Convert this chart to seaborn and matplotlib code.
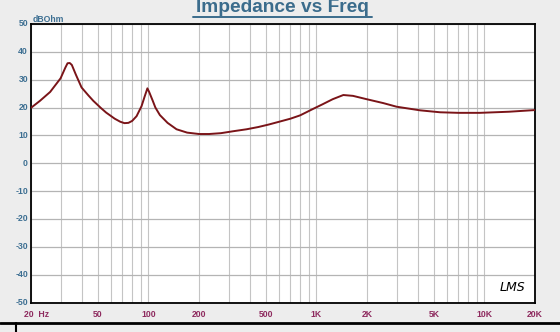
import numpy as np
import pandas as pd
import matplotlib
matplotlib.use("Agg")
import matplotlib.pyplot as plt
from matplotlib.lines import Line2D
import seaborn as sns

# ---- data ----
freq = [20, 22.6, 26, 30, 32, 33, 34, 35, 37, 40, 44, 47, 52, 56, 63, 68, 72, 76, 80, 85,
        91, 95, 98.6, 101, 106, 110, 117, 130, 147, 170, 200, 230, 270, 320, 384,
        450, 520, 608, 700, 800, 954, 1090, 1250, 1446, 1650, 1990, 2500, 3000,
        4140, 5450, 7000, 9400, 14000, 20000]
imp = [19.9, 22.4, 25.6, 30.5, 34.3, 35.9, 36.0, 35.3, 31.8, 27.2, 24.3, 22.4, 19.9,
       18.2, 16.0, 14.9, 14.4, 14.5, 15.2, 16.9, 20.5, 24.0, 26.9, 25.6, 22.5, 20.0,
       17.3, 14.5, 12.2, 11.0, 10.5, 10.5, 10.8, 11.5, 12.2, 13.0, 13.9, 15.0, 16.0,
       17.2, 19.5, 21.2, 23.0, 24.5, 24.2, 23.0, 21.6, 20.3, 19.0, 18.3, 18.1, 18.1,
       18.5, 19.1]

xticks = [20, 50, 100, 200, 500, 1000, 2000, 5000, 10000, 20000]
xlabels = ["20  Hz", "50", "100", "200", "500", "1K", "2K", "5K", "10K", "20K"]
yticks = list(range(-50, 51, 10))

df = pd.DataFrame({"freq": freq, "imp": imp})

sns.set_style("white")
plt.rcParams["font.family"] = ["Liberation Sans", "DejaVu Sans"]

bg = "#ededed"
fig = plt.figure(figsize=(5.6, 3.32), dpi=100, facecolor=bg)
ax = fig.add_axes([31/560, 1 - 302.5/332, 504/560, 278.5/332])
ax.set_facecolor("white")

# grid
minor = []
for dec in [10, 100, 1000, 10000]:
    for m in range(1, 10):
        f = m * dec
        if 20 <= f <= 20000:
            minor.append(f)
for f in minor:
    ax.axvline(f, color="#c4c4c4", lw=0.8, zorder=1)
for y in yticks:
    ax.axhline(y, color="#b4b4b4", lw=0.9, zorder=1)

sns.lineplot(data=df, x="freq", y="imp", ax=ax, color="#7a1418", lw=1.4, zorder=3)

ax.set_xscale("log")
ax.set_xlim(20, 20000)
ax.set_ylim(-50, 50)
ax.set_xlabel("")
ax.set_ylabel("")
ax.set_xticks(xticks)
ax.set_xticklabels([])
ax.xaxis.set_minor_locator(matplotlib.ticker.NullLocator())
ax.set_yticks(yticks)
ax.set_yticklabels([])
ax.tick_params(length=0)
for s in ax.spines.values():
    s.set_color("black")
    s.set_linewidth(1.3)
    s.set_visible(True)

blue = "#3d6f92"
maroon = "#8e2a5e"
for y in yticks:
    ax.text(-0.006, y, str(y), transform=ax.get_yaxis_transform(), ha="right", va="center",
            fontsize=6.2, fontweight="bold", color=blue)
for f, lab in zip(xticks, xlabels):
    ha = "center"
    xx = f
    if lab.startswith("20 "):
        ha = "left"
        xx = 18.2
    ax.text(xx, -0.028, lab, transform=ax.get_xaxis_transform(), ha=ha, va="top",
            fontsize=6.2, fontweight="bold", color=maroon)

fig.text(33/560, 1 - 19/332, "dBOhm", ha="left", va="center", fontsize=6.2,
         fontweight="bold", color=blue)

fig.text(282/560, 1 - 7/332, "Impedance vs Freq", ha="center", va="center",
         fontsize=13.8, fontweight="bold", color="#3b6c8c")
fig.add_artist(Line2D([193/560, 372/560], [1 - 16.5/332, 1 - 16.5/332],
                      color="#3b6c8c", lw=1.4, transform=fig.transFigure))

ax.text(0.955, 0.055, "LMS", transform=ax.transAxes, ha="center", va="center",
        fontsize=9, style="italic", color="black", family=["DejaVu Sans"])

fig.add_artist(Line2D([0, 1], [1 - 323/332, 1 - 323/332], color="black", lw=2.0,
                      transform=fig.transFigure))
fig.add_artist(Line2D([15.7/560, 15.7/560], [0, 1 - 323/332], color="black", lw=1.5,
                      transform=fig.transFigure))

fig.savefig("out.png", dpi=100, facecolor=bg)
